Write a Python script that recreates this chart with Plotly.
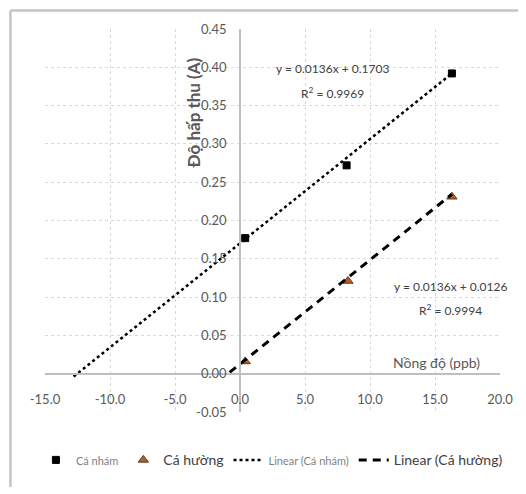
import plotly.graph_objects as go

# ---- data ----
conc_nham = [0.4, 8.2, 16.3]
abs_nham = [0.177, 0.272, 0.392]
conc_huong = [0.4, 8.3, 16.3]
abs_huong = [0.016, 0.121, 0.231]

# trendline equations shown on the chart
slope_nham, intercept_nham = 0.0136, 0.1703
slope_huong, intercept_huong = 0.0136, 0.0126
trend_x_nham = [-12.8, 16.3]
trend_x_huong = [-0.8, 16.3]

x_ticks = [-15, -10, -5, 0, 5, 10, 15, 20]
y_ticks = [-0.05, 0.00, 0.05, 0.10, 0.15, 0.20, 0.25, 0.30, 0.35, 0.40, 0.45]

FONT = "Lato, sans-serif"
GRID = "#d9d9d9"
AXIS = "#bfbfbf"
TXT = "#595959"

fig = go.Figure()

fig.add_trace(go.Scatter(
    x=conc_nham, y=abs_nham, mode="markers", name="<span style='font-size:11px;color:#7f7f7f'>Cá nhám</span>",
    marker=dict(symbol="square", size=7, color="black", line=dict(color="black", width=1)),
))
fig.add_trace(go.Scatter(
    x=conc_huong, y=abs_huong, mode="markers", name="<span style='font-size:14px;color:#404040'>Cá hường</span>",
    marker=dict(symbol="triangle-up", size=9, color="#c55a11", line=dict(color="#404040", width=1)),
))
fig.add_trace(go.Scatter(
    x=trend_x_nham, y=[slope_nham * v + intercept_nham for v in trend_x_nham], mode="lines",
    name="<span style='font-size:11px;color:#7f7f7f'>Linear (Cá nhám)</span>",
    line=dict(color="black", width=2.5, dash="dot"),
))
fig.add_trace(go.Scatter(
    x=trend_x_huong, y=[slope_huong * v + intercept_huong for v in trend_x_huong], mode="lines",
    name="<span style='font-size:14px;color:#404040'>Linear (Cá hường)</span>",
    line=dict(color="black", width=3, dash="8px,6px"),
))

EQ = dict(family=FONT, size=12, color="#404040")
fig.add_annotation(x=7.15, y=0.399, xref="x", yref="y", text="y = 0.0136x + 0.1703", showarrow=False, font=EQ)
fig.add_annotation(x=7.15, y=0.367, xref="x", yref="y", text="R<sup>2</sup> = 0.9969", showarrow=False, font=EQ)
fig.add_annotation(x=16.2, y=0.1135, xref="x", yref="y", text="y = 0.0136x + 0.0126", showarrow=False, font=EQ)
fig.add_annotation(x=16.2, y=0.0835, xref="x", yref="y", text="R<sup>2</sup> = 0.9994", showarrow=False, font=EQ)

# axis titles
fig.add_annotation(x=-3.6, y=0.34, xref="x", yref="y", text="<b>Độ hấp thu (A)</b>", textangle=-90,
                   showarrow=False, font=dict(family=FONT, size=17, color=TXT))
fig.add_annotation(x=15.1, y=0.0143, xref="x", yref="y", text="Nồng độ (ppb)", showarrow=False,
                   font=dict(family=FONT, size=14, color=TXT))

# outer chart frame (top and left edges visible)
fig.add_shape(type="line", xref="paper", yref="paper", layer="above",
              x0=-0.076, x1=1.06, y0=1.048, y1=1.048,
              line=dict(color="#c4c4c4", width=2.5))
fig.add_shape(type="line", xref="paper", yref="paper", layer="above",
              x0=-0.076, x1=-0.076, y0=1.048, y1=-0.196,
              line=dict(color="#c4c4c4", width=2.5))

fig.update_layout(
    width=518, height=486,
    margin=dict(l=37, r=26, t=21, b=82),
    paper_bgcolor="white", plot_bgcolor="white",
    font=dict(family=FONT, color=TXT, size=12),
    showlegend=True,
    legend=dict(orientation="h", x=-0.02, xanchor="left", y=-0.125, yanchor="middle",
                font=dict(family=FONT, size=12, color=TXT), itemwidth=30, tracegroupgap=0),
    xaxis=dict(range=[-15, 20], tickvals=x_ticks, ticktext=[f"{v:.1f}" for v in x_ticks],
               showgrid=True, gridcolor=GRID, griddash="dot", gridwidth=1,
               zeroline=False, showline=True, linecolor=AXIS, linewidth=1.5,
               anchor="free", position=0.1, ticks="", ticklabelstandoff=14,
               tickfont=dict(family=FONT, size=13, color=TXT)),
    yaxis=dict(range=[-0.05, 0.45], tickvals=y_ticks, ticktext=[f"{v:.2f}" for v in y_ticks],
               showgrid=True, gridcolor=GRID, griddash="dot", gridwidth=1,
               zeroline=False, showline=True, linecolor=AXIS, linewidth=1.5,
               anchor="free", position=15 / 35, ticks="", ticklabelstandoff=10,
               tickfont=dict(family=FONT, size=13, color=TXT)),
)

fig.write_html("out.html")
